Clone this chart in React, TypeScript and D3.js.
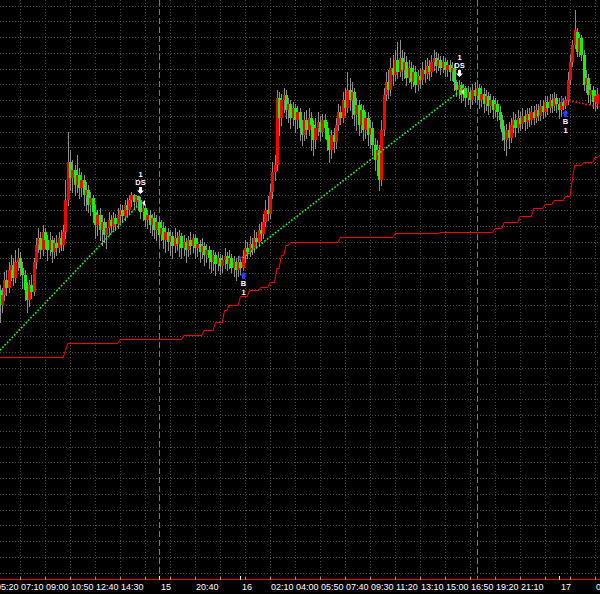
import React from 'react';
import * as d3 from 'd3';

const W = 600;
const H = 594;

// OHLC per 10-minute bar (prices)
const opens = [
  710,695,705,720,712,730,735,722,738,742,732,
  725,710,700,715,708,738,755,762,750,768,760,
  750,760,748,757,752,762,755,768,800,838,822,
  830,815,825,812,820,805,810,795,802,788,775,
  785,770,778,765,772,780,774,782,776,785,790,
  784,795,790,800,805,798,804,800,788,792,780,
  785,775,782,770,778,765,772,760,768,758,764,
  754,762,756,764,752,758,750,760,754,762,752,
  756,748,754,745,750,742,738,745,736,742,734,
  740,744,736,742,732,738,730,738,732,744,752,
  748,756,752,762,758,770,766,778,790,786,808,
  828,835,902,882,900,905,890,896,882,892,880,
  888,872,865,880,870,882,875,860,872,878,868,
  880,872,860,850,865,858,875,888,882,900,892,
  910,900,908,885,895,875,890,870,882,865,872,
  855,840,850,820,870,905,918,910,932,925,940,
  928,942,930,938,922,932,918,928,915,924,920,
  930,926,934,928,938,942,934,940,932,938,930,
  935,928,932,918,910,915,905,912,902,908,900,
  910,904,912,900,906,896,904,894,900,890,896,
  888,880,868,860,870,862,875,880,872,882,876,
  884,878,886,880,888,882,890,884,894,888,898,
  892,900,894,902,896,890,898,894,900,920,938,
  955,968,948,962,945,915,922,905,910,898,896,
];
const highs = [
  715,712,728,730,738,745,742,750,752,748,738,
  730,718,720,725,742,762,772,768,775,772,765,
  768,764,762,765,768,770,775,820,868,850,840,
  835,845,832,828,825,818,815,808,805,795,790,
  792,785,782,778,788,785,788,786,792,796,795,
  800,802,805,808,806,805,804,803,798,796,790,
  790,786,788,785,782,780,778,774,772,770,768,
  772,768,770,767,765,762,764,768,766,765,762,
  760,762,758,756,754,750,750,748,748,746,745,
  752,748,750,746,744,742,744,742,750,760,758,
  764,762,770,768,776,778,786,800,804,816,838,
  845,910,908,906,912,910,902,900,898,896,894,
  892,880,888,890,892,888,880,882,888,884,886,
  886,878,865,870,872,882,896,894,908,912,928,
  922,918,912,902,900,896,895,888,888,880,878,
  862,860,855,880,912,928,930,942,945,950,958,
  960,950,948,944,940,938,935,934,930,932,938,
  940,942,940,945,950,948,946,944,944,942,940,
  940,938,936,920,920,918,916,914,914,912,916,
  918,920,916,914,912,910,908,906,904,902,900,
  894,885,874,876,878,882,888,886,890,888,892,
  890,892,892,894,894,896,896,900,900,904,904,
  906,906,908,906,902,904,902,904,928,945,960,
  990,972,966,965,950,930,926,916,914,910,912,
];
const lows = [
  678,688,700,705,708,720,715,718,730,725,712,
  700,688,694,702,705,732,748,742,745,752,740,
  745,738,742,745,748,750,750,762,795,810,808,
  805,808,802,804,795,790,788,785,778,762,765,
  760,755,758,752,765,768,770,770,772,778,778,
  780,785,786,794,792,794,790,782,780,774,772,
  768,765,762,760,756,760,752,748,750,745,742,
  748,750,744,742,745,738,744,746,748,742,744,
  738,742,735,738,732,728,730,725,730,726,728,
  732,730,732,728,724,720,724,726,730,738,742,
  744,746,748,752,754,760,762,774,780,782,802,
  820,830,865,875,888,882,878,872,875,868,872,
  860,855,860,862,865,850,845,852,865,860,864,
  862,850,838,842,848,852,870,876,878,885,888,
  890,882,875,870,865,868,860,862,855,852,845,
  830,825,810,815,865,900,902,905,915,920,922,
  924,920,922,915,918,912,914,908,910,912,916,
  918,922,920,924,930,928,930,926,928,924,924,
  920,920,910,904,902,898,900,894,896,892,896,
  898,900,892,894,888,890,886,888,882,884,880,
  872,860,850,845,852,858,868,864,868,870,872,
  870,872,874,876,876,878,880,880,882,884,886,
  888,888,890,888,882,884,891,892,896,916,934,
  952,944,944,940,910,908,898,896,892,890,892,
];
const closes = [
  695,705,720,712,730,735,722,738,742,732,725,
  710,700,715,708,738,755,762,750,768,760,750,
  760,748,757,752,762,755,768,800,838,822,830,
  815,825,812,820,805,810,795,802,788,775,785,
  770,778,765,772,780,774,782,776,785,790,784,
  795,790,800,805,798,804,800,788,792,780,785,
  775,782,770,778,765,772,760,768,758,764,754,
  762,756,764,752,758,750,760,754,762,752,756,
  748,754,745,750,742,738,745,736,742,734,740,
  744,736,742,732,738,730,738,732,744,752,748,
  756,752,762,758,770,766,778,790,786,808,828,
  835,902,882,900,905,890,896,882,892,880,888,
  872,865,880,870,882,875,860,872,878,868,880,
  872,860,850,865,858,875,888,882,900,892,910,
  900,908,885,895,875,890,870,882,865,872,855,
  840,850,820,870,905,918,910,932,925,940,928,
  942,930,938,922,932,918,928,915,924,920,930,
  926,934,928,938,942,934,940,932,938,930,935,
  928,932,918,910,915,905,912,902,908,900,910,
  904,912,900,906,896,904,894,900,890,896,888,
  880,868,860,870,862,875,880,872,882,876,884,
  878,886,880,888,882,890,884,894,888,898,892,
  900,894,902,896,890,898,894,900,920,938,955,
  970,948,962,945,915,922,905,910,898,904,906,
];

// Trailing stop line: bar index where value changes, and the value
const stopIdx = [0, 29, 30, 53, 81, 90, 95, 99, 101, 106, 110, 115, 119, 122, 124, 126, 128, 150, 174, 194, 218, 222, 229, 235, 240, 244, 249, 252, 253, 257, 262, 264];
const stopVal = [643, 650, 657, 661, 665, 670, 678, 690, 695, 704, 710, 713, 718, 732, 745, 755, 758, 763, 767, 768, 772, 778, 784, 792, 796, 800, 804, 820, 835, 838, 843, 845];

// Trades (entry -> exit)
const tradeEntryIdx = [-6, 107, 249];
const tradeEntryPrice = [635, 742, 900];
const tradeExitIdx = [62, 202, 264];
const tradeExitPrice = [797, 908, 893];

// Signals
const signalIdx = [62, 107, 202, 249];
const signalType = ['DS', 'B', 'DS', 'B'];
const signalPrice = [797, 742, 908, 900];
const signalQty = ['1', '1', '1', '1'];

// Time axis
const gridIdx = d3.range(-2, 264, 11);
const timeTickIdx = [-2, 9, 20, 31, 42, 53, 86, 119, 130, 141, 152, 163, 174, 185, 196, 207, 218, 229, 262];
const timeTickLabels = ['05:20', '07:10', '09:00', '10:50', '12:40', '14:30', '20:40', '02:10', '04:00', '05:50', '07:40', '09:30', '11:20', '13:10', '15:00', '16:50', '19:20', '21:10', '02:40'];
const dayTickIdx = [70, 106, 246];
const dayTickLabels = ['15', '16', '17'];
const sessionBreakIdx = [70, 210];

// Price grid
const gridTopPrice = 994.3;
const gridStep = 15.75;
const gridCount = 37;

const UP = '#ff0000';
const DOWN = '#00ff00';
const WICK = '#8e8e8e';
const GRID = '#4a4a4a';
const BLUE = '#2244ff';
const FONT = '"Liberation Sans", Arial, sans-serif';

export default function App() {
  const x = d3.scaleLinear().domain([0, 264]).range([-0.4545, 599.5455]);
  const y = d3.scaleLinear().domain([406, 1000]).range([H, 0]);
  const axisY = 579.5;

  const gridPrices = d3.range(gridCount).map((k) => gridTopPrice - gridStep * k);

  // stop line points
  const stopPts: [number, number][] = [];
  stopIdx.forEach((idx, k) => {
    stopPts.push([idx, stopVal[k]]);
    const next = stopIdx[k + 1];
    if (next !== undefined && next - 1 > idx) stopPts.push([next - 1, stopVal[k]]);
  });
  const stopLine = d3.line<[number, number]>().x((d) => x(d[0])).y((d) => Math.round(y(d[1])) + 0.5)(stopPts) || '';

  const candles = opens.map((o, i) => {
    const c = closes[i];
    const cx = Math.round(x(i));
    const yo = Math.round(y(o));
    const yc = Math.round(y(c));
    const top = Math.min(yo, yc);
    const h = Math.max(1, Math.abs(yo - yc));
    const color = c > o ? UP : c < o ? DOWN : WICK;
    return (
      <g key={i}>
        <line x1={cx + 0.5} x2={cx + 0.5} y1={Math.round(y(highs[i]))} y2={Math.round(y(lows[i])) + 1} stroke={WICK} strokeWidth={1} />
        <rect x={cx - 1} y={top} width={3} height={h} fill={color} />
      </g>
    );
  });

  return (
    <svg width={W} height={H} style={{ position: 'absolute', left: 0, top: 0, background: '#000' }} fontFamily={FONT}>
      <rect x={0} y={0} width={W} height={H} fill="#000" />
      <g shapeRendering="crispEdges">
        {gridPrices.map((p, k) => (
          <line key={'h' + k} x1={0} x2={W} y1={Math.round(y(p)) + 0.5} y2={Math.round(y(p)) + 0.5} stroke={GRID} strokeDasharray="1,2" />
        ))}
        {gridIdx.map((idx) => (
          <line key={'v' + idx} x1={Math.round(x(idx)) + 0.5} x2={Math.round(x(idx)) + 0.5} y1={0} y2={axisY} stroke={GRID} strokeDasharray="1,2" />
        ))}
        {sessionBreakIdx.map((idx) => (
          <line key={'s' + idx} x1={Math.round(x(idx)) + 0.5} x2={Math.round(x(idx)) + 0.5} y1={0} y2={axisY} stroke="#7a7a7a" strokeDasharray="6,3" />
        ))}
      </g>
      <path d={stopLine} fill="none" stroke="#ff0000" strokeWidth={1} />
      <g shapeRendering="crispEdges">{candles}</g>
      {tradeEntryIdx.map((ei, k) => {
        const win = tradeExitPrice[k] >= tradeEntryPrice[k];
        return (
          <line key={'t' + k} x1={x(ei)} y1={y(tradeEntryPrice[k])} x2={x(tradeExitIdx[k])} y2={y(tradeExitPrice[k])}
            stroke={win ? '#22ff22' : '#ff2020'} strokeWidth={1.6} strokeDasharray="1.6,1.8" />
        );
      })}
      {signalIdx.map((idx, k) => {
        const cx = Math.round(x(idx)) + 0.5;
        const py = y(signalPrice[k]);
        if (signalType[k] === 'DS') {
          const tip = Math.round(y(highs[idx])) - 3;
          return (
            <g key={'sg' + k}>
              <path d={`M${cx - 1.5},${tip - 7}h3v3.5h2l-3.5,3.5l-3.5,-3.5h2z`} fill="#fff" />
              <path d={`M${cx + 1.5},${py} l3,-3 v6z`} fill="#fff" />
              <text x={cx} y={tip - 9} fill="#fff" fontSize={7.5} fontWeight="bold" textAnchor="middle">{signalType[k]}</text>
              <text x={cx} y={tip - 17} fill="#fff" fontSize={7.5} fontWeight="bold" textAnchor="middle">{signalQty[k]}</text>
            </g>
          );
        }
        const tip = Math.round(y(lows[idx])) + 2;
        return (
          <g key={'sg' + k}>
            <path d={`M${cx - 1.5},${tip + 7}h3v-3.5h2l-3.5,-3.5l-3.5,3.5h2z`} fill={BLUE} />
            <path d={`M${cx - 1.5},${py} l-3,-3 v6z`} fill={BLUE} />
            <text x={cx} y={tip + 14} fill="#fff" fontSize={7.5} fontWeight="bold" textAnchor="middle">{signalType[k]}</text>
            <text x={cx} y={tip + 23} fill="#fff" fontSize={7.5} fontWeight="bold" textAnchor="middle">{signalQty[k]}</text>
          </g>
        );
      })}
      <rect x={0} y={axisY + 0.5} width={W} height={H - axisY} fill="#000" />
      <line x1={0} x2={W} y1={axisY} y2={axisY} stroke="#ff0000" strokeWidth={1} shapeRendering="crispEdges" />
      <g shapeRendering="crispEdges">
        {gridIdx.map((idx) => (
          <line key={'tk' + idx} x1={Math.round(x(idx)) + 0.5} x2={Math.round(x(idx)) + 0.5} y1={axisY - 3} y2={axisY} stroke="#9a9a9a" />
        ))}
        {dayTickIdx.map((idx) => (
          <line key={'dk' + idx} x1={Math.round(x(idx)) + 0.5} x2={Math.round(x(idx)) + 0.5} y1={axisY - 4} y2={axisY} stroke="#ffffff" />
        ))}
      </g>
      {timeTickIdx.map((idx, k) => (
        <text key={'tl' + k} x={Math.round(x(idx)) + 1} y={590} fill="#fff" fontSize={9}>{timeTickLabels[k]}</text>
      ))}
      {dayTickIdx.map((idx, k) => (
        <text key={'dl' + k} x={Math.round(x(idx)) + 2} y={590} fill="#fff" fontSize={9}>{dayTickLabels[k]}</text>
      ))}
    </svg>
  );
}
